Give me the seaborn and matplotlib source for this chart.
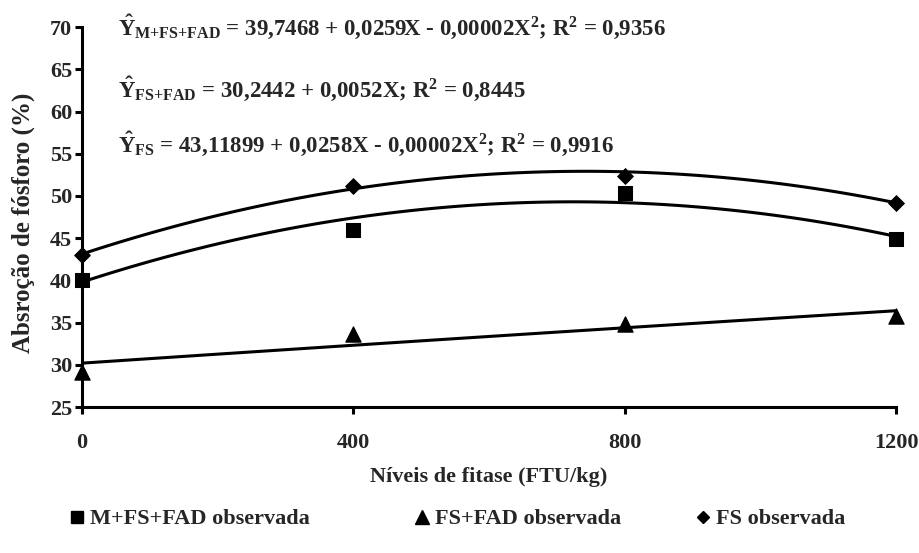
import seaborn as sns
import matplotlib.pyplot as plt
from matplotlib.lines import Line2D

# phytase levels (FTU/kg)
levels = [0, 400, 800, 1200]

# observed phosphorus absorption (%)
obs_m_fs_fad = [40.0, 46.0, 50.3, 44.9]
obs_fs_fad = [29.2, 33.7, 34.8, 35.8]
obs_fs = [43.0, 51.2, 52.4, 49.2]

# fitted curves at the same levels
fit_m_fs_fad = [39.8, 47.4, 49.2, 45.2]
fit_fs_fad = [30.2, 32.3, 34.4, 36.4]
fit_fs = [43.1, 50.9, 52.8, 49.2]

equations = [
    r"$\hat{Y}_{\mathrm{M{+}FS{+}FAD}}$ = 39,7468 + 0,0259X - 0,00002X$^{2}$; R$^{2}$ = 0,9356",
    r"$\hat{Y}_{\mathrm{FS{+}FAD}}$ = 30,2442 + 0,0052X; R$^{2}$ = 0,8445",
    r"$\hat{Y}_{\mathrm{FS}}$ = 43,11899 + 0,0258X - 0,00002X$^{2}$; R$^{2}$ = 0,9916",
]
legend_labels = ["M+FS+FAD observada", "FS+FAD observada", "FS observada"]

sns.set_style("ticks")
plt.rcParams["font.family"] = ["Liberation Serif", "DejaVu Serif"]
plt.rcParams["font.weight"] = "bold"
plt.rcParams["mathtext.fontset"] = "custom"
plt.rcParams["mathtext.rm"] = "Liberation Serif:bold"
plt.rcParams["mathtext.it"] = "Liberation Serif:bold"
plt.rcParams["mathtext.bf"] = "Liberation Serif:bold"

fig = plt.figure(figsize=(9.19, 5.53), dpi=100)
ax = fig.add_axes([0.0892, 0.264, 0.886, 0.687])

lw = 2.2
for fit in [fit_m_fs_fad, fit_fs_fad, fit_fs]:
    sns.regplot(x=levels, y=fit, order=2, ci=None, scatter=False, ax=ax,
                line_kws={"color": "black", "lw": lw})

sns.scatterplot(x=levels, y=obs_m_fs_fad, marker="s", s=90, color="black",
                edgecolor="black", ax=ax, zorder=5, clip_on=False)
sns.scatterplot(x=levels, y=obs_fs_fad, marker="^", s=120, color="black",
                edgecolor="black", ax=ax, zorder=5, clip_on=False)
sns.scatterplot(x=levels, y=obs_fs, marker="D", s=65, color="black",
                edgecolor="black", ax=ax, zorder=5, clip_on=False)

ax.set_xlim(0, 1200)
ax.set_ylim(25, 70)
ax.set_xticks(levels)
ax.set_yticks(range(25, 71, 5))
sns.despine(ax=ax)
for s in ["left", "bottom"]:
    ax.spines[s].set_linewidth(2.2)
    ax.spines[s].set_color("black")
ax.tick_params(axis="both", length=5, width=2.2, color="black", labelsize=16)
ax.tick_params(axis="x", pad=14)
ax.tick_params(axis="y", pad=2)
for lab in ax.get_xticklabels() + ax.get_yticklabels():
    lab.set_fontweight("bold")

ax.set_xlabel("Níveis de fitase (FTU/kg)", fontsize=16, fontweight="bold")
ax.set_ylabel("Absroção de fósforo (%)", fontsize=18, fontweight="bold")
ax.xaxis.set_label_coords(0.5, -0.184)
ax.xaxis.label.set_va("center")
ax.yaxis.set_label_coords(-0.0725, 0.484)
ax.yaxis.label.set_va("center")

for eq, yy in zip(equations, [0.979, 0.816, 0.671]):
    ax.text(0.044, yy, eq, transform=ax.transAxes, fontsize=16.5, fontweight="bold",
            va="baseline", ha="left")

handles = [
    Line2D([], [], ls="", marker="s", color="black", ms=9),
    Line2D([], [], ls="", marker="^", color="black", ms=10),
    Line2D([], [], ls="", marker="D", color="black", ms=6.5),
]
# legend entries sit at uneven spacing in the original, so place each one
for h, lab, x0 in zip(handles, legend_labels, [68, 413, 694]):
    fig.legend([h], [lab], loc="center left", bbox_to_anchor=(x0 / 919, 1 - 519 / 553),
               frameon=False, borderpad=0, borderaxespad=0, handlelength=0.8,
               handletextpad=0.2, prop={"size": 16, "weight": "bold"})

fig.savefig("out.png", dpi=100)
